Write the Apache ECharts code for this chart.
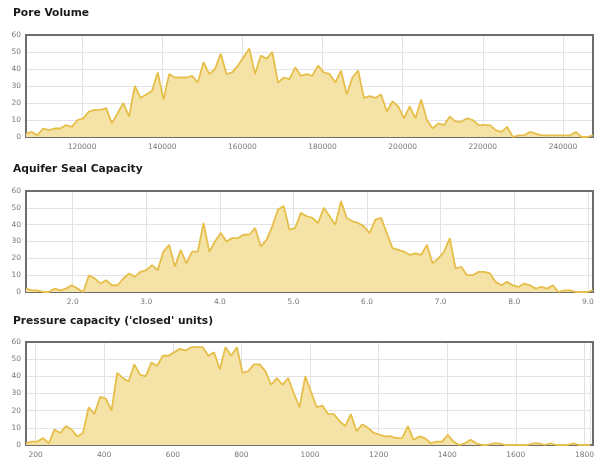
<!DOCTYPE html>
<html>
<head>
<meta charset="utf-8">
<script src="https://cdn.jsdelivr.net/npm/echarts@6/dist/echarts.min.js"></script>
<style>
  html, body { margin: 0; padding: 0; background: #fff; }
  #main { width: 597px; height: 459px; }
</style>
</head>
<body>
<div id="main"></div>
<script>
// titles
var titles = ["Pore Volume", "Aquifer Seal Capacity", "Pressure capacity ('closed' units)"];

// pore volume histogram (100 bins)
var poreStart = 106000, poreEnd = 247500;
var poreCounts = [
  2,3,1,5,4,5,5,7,6,10,
  11,15,16,16,17,8,14,20,12,30,
  23,25,27,38,22,37,35,35,35,36,
  32,44,37,40,49,37,38,42,47,52,
  37,48,46,50,32,35,34,41,36,37,
  36,42,38,37,32,39,25,35,39,23,
  24,23,25,15,21,18,11,18,11,22,
  10,5,8,7,12,9,9,11,10,7,
  7,7,4,3,6,0,1,1,3,2,
  1,1,1,1,1,1,3,0,0,1
];

// aquifer seal capacity histogram
var sealStart = 1.365, sealEnd = 9.07;
var sealCounts = [
  2,1,1,0,0,2,1,2,4,2,
  0,10,8,5,7,4,4,8,11,9,
  12,13,16,13,24,28,15,25,17,24,
  24,41,24,30,35,30,32,32,34,34,
  38,27,31,39,49,51,37,38,47,45,
  44,41,50,45,40,54,44,42,41,39,
  35,43,44,35,26,25,24,22,23,22,
  28,17,20,24,32,14,15,10,10,12,
  12,11,6,4,6,4,3,5,4,2,
  3,2,4,0,1,1,0,0,0,1
];

// pressure capacity histogram
var pressStart = 172, pressEnd = 1817;
var pressCounts = [
  1,2,2,4,1,9,7,11,9,5,
  7,22,18,28,27,20,42,39,37,47,
  41,40,48,46,52,52,54,56,55,57,
  57,57,52,54,44,57,52,57,42,43,
  47,47,43,35,39,35,39,30,22,40,
  31,22,23,18,18,14,11,18,8,12,
  10,7,6,5,5,4,4,11,3,5,
  4,1,2,2,6,2,0,1,3,1,
  0,0,1,1,0,0,0,0,0,1,
  1,0,1,0,0,0,1,0,0,0
];

var yTicks = { min: 0, max: 60, interval: 10 };

// bins are evenly spaced between start and end
function toPairs(start, end, counts){
    var step = (end - start) / (counts.length - 1);
    var out = [];
    for (var i = 0; i < counts.length; i++) {
        out.push([start + i * step, counts[i]]);
    }
    return out;
}

var font = "DejaVu Sans";
var grids = [
    {left: 26, top: 35, width: 567, height: 102},
    {left: 26, top: 191, width: 567, height: 101},
    {left: 26, top: 342, width: 567, height: 103}
];
var titleTops = [2.5, 158.5, 310.5];
var ranges = [[poreStart, poreEnd], [sealStart, sealEnd], [pressStart, pressEnd]];
var counts = [poreCounts, sealCounts, pressCounts];
var formatters = [
    function(v){ return String(v); },
    function(v){ return v.toFixed(1); },
    function(v){ return String(v); }
];

var option = {
    animation: false,
    title: [],
    grid: [],
    xAxis: [],
    yAxis: [],
    series: [],
    graphic: []
};

for (var k = 0; k < 3; k++) {
    option.title.push({
        text: titles[k],
        left: 8,
        top: titleTops[k],
        textStyle: {fontFamily: font, fontSize: 10.7, fontWeight: "bold", color: "#1a1a1a"}
    });
    option.grid.push(Object.assign({show: false}, grids[k]));
    // frame: above the split lines, below the series line
    option.graphic.push({
        type: "rect",
        z: 1,
        silent: true,
        shape: {x: grids[k].left, y: grids[k].top, width: grids[k].width, height: grids[k].height},
        style: {fill: null, stroke: "#6e6e6e", lineWidth: 2}
    });
    option.xAxis.push({
        type: "value",
        gridIndex: k,
        min: ranges[k][0],
        max: ranges[k][1],
        splitNumber: 8,
        axisLine: {show: false},
        axisTick: {show: false},
        splitLine: {show: true, lineStyle: {color: "#e3e3e3", width: 1}},
        axisLabel: {
            fontFamily: font, fontSize: 7.5, color: "#777", margin: 6,
            showMinLabel: false, showMaxLabel: false,
            formatter: formatters[k]
        }
    });
    option.yAxis.push({
        type: "value",
        gridIndex: k,
        min: yTicks.min,
        max: yTicks.max,
        interval: yTicks.interval,
        axisLine: {show: false},
        axisTick: {show: false},
        splitLine: {show: true, lineStyle: {color: "#e3e3e3", width: 1}},
        axisLabel: {fontFamily: font, fontSize: 7.5, color: "#777", margin: 5}
    });
    option.series.push({
        type: "line",
        xAxisIndex: k,
        yAxisIndex: k,
        data: toPairs(ranges[k][0], ranges[k][1], counts[k]),
        showSymbol: false,
        lineStyle: {color: "#e6be4a", width: 1.8},
        itemStyle: {color: "#e6be4a"},
        areaStyle: {color: "#f5e2a6", opacity: 1}
    });
}

var myChart = echarts.init(document.getElementById("main"));
myChart.setOption(option);
</script>
</body>
</html>
